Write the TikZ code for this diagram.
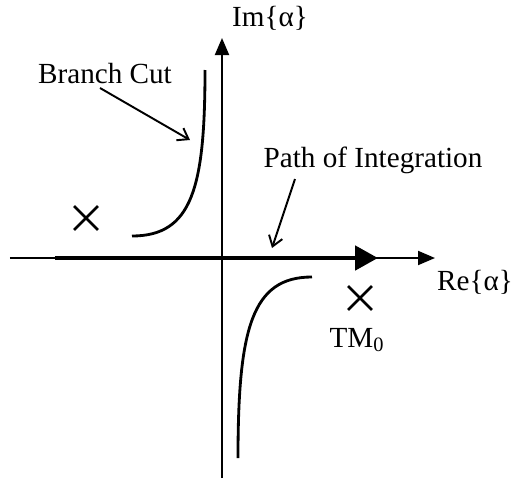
\documentclass[tikz,border=0pt]{standalone}
\usepackage{fontspec}
\setmainfont{Liberation Serif}
\usetikzlibrary{arrows.meta,shapes.misc}

\begin{document}
\begin{tikzpicture}[
    pole/.style={cross out, draw, line width=1.6pt, minimum size=0.42cm, inner sep=0pt},
    cut/.style={line width=1.6pt},
    axis/.style={line width=1.1pt, -{Triangle[length=0.34cm, width=0.28cm]}},
    pointer/.style={line width=1.1pt, -{Straight Barb[length=0.2cm, width=0.28cm]}},
    font=\fontsize{16.6}{20}\selectfont
]
    \useasboundingbox (-4.44,-4.42) rectangle (5.84,5.16);

    % Achsen
    \coordinate (O) at (0,0);
    \coordinate (ReL) at (-4.24,0);
    \coordinate (ReR) at (4.26,0);
    \coordinate (ImB) at (0,-4.40);
    \coordinate (ImT) at (0,4.40);
    \draw[axis] (ReL) -- (ReR);
    \draw[axis] (ImB) -- (ImT);

    % Integrationsweg
    \coordinate (PS) at (-3.34,0);
    \coordinate (PE) at (3.12,0);
    \draw[line width=2.8pt, -{Triangle[length=0.46cm, width=0.48cm]}] (PS) -- (PE);

    % Verzweigungsschnitte
    \coordinate (C1) at (-1.80,0.44);
    \coordinate (C2) at (-0.34,3.76);
    \coordinate (D1) at (1.80,-0.38);
    \coordinate (D2) at (0.32,-4.00);
    \draw[cut] (C1) .. controls (-0.6,0.44) and (-0.34,1.4) .. (C2);
    \draw[cut] (D1) .. controls (0.6,-0.38) and (0.32,-1.4) .. (D2);

    % Pole
    \node[pole] (P1) at (-2.72,0.80) {};
    \node[pole] (P2) at (2.76,-0.80) {};

    % Beschriftungen
    \node (im) at (0.96,4.80) {Im\{α\}};
    \node (re) at (5.06,-0.48) {Re\{α\}};
    \node (tm) at (2.70,-1.64) {TM\textsubscript{0}};
    \node (bc) at (-2.34,3.68) {Branch Cut};
    \node (pi) at (3.02,1.96) {Path of Integration};

    \coordinate (bcS) at (-2.44,3.40);
    \coordinate (bcE) at (-0.64,2.36);
    \coordinate (piS) at (1.46,1.58);
    \coordinate (piE) at (1.00,0.20);
    \draw[pointer] (bcS) -- (bcE);
    \draw[pointer] (piS) -- (piE);
\end{tikzpicture}
\end{document}
